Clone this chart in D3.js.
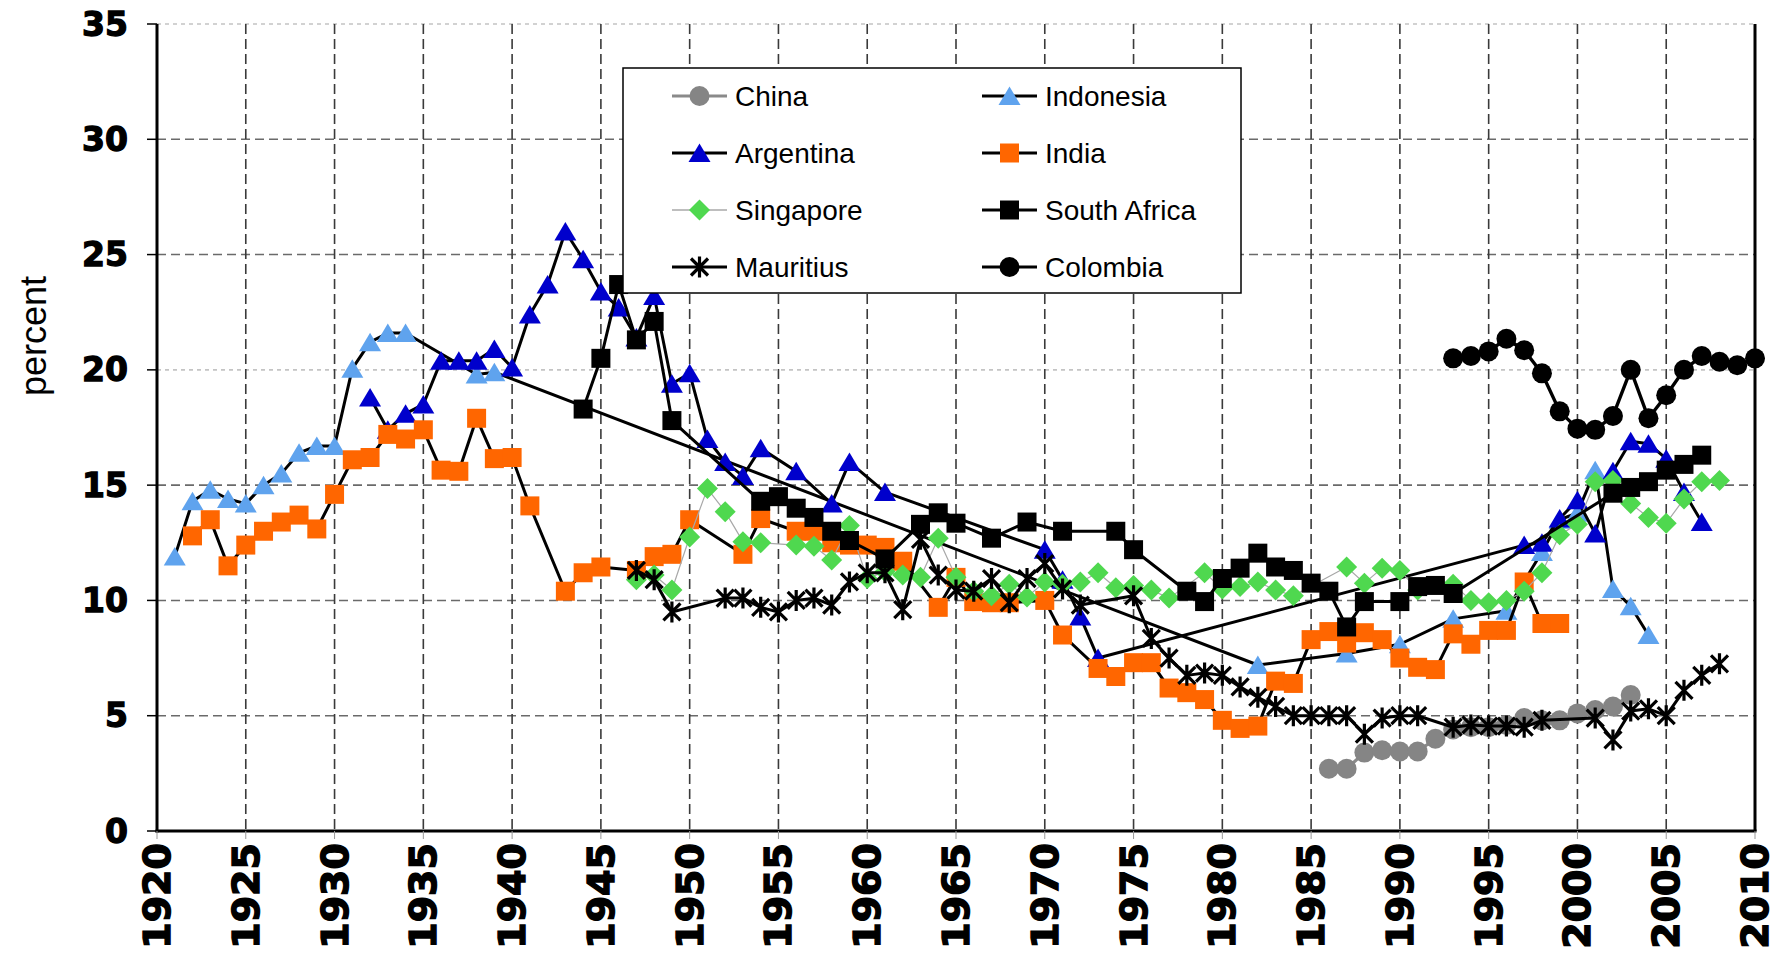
<!DOCTYPE html>
<html>
<head>
<meta charset="utf-8">
<script src="https://cdn.jsdelivr.net/npm/d3@7"></script>
<style>
  html, body { margin: 0; padding: 0; background: #fff; }
  svg { display: block; }
</style>
</head>
<body>
<svg id="chart" width="1780" height="958"></svg>
<script>
// ---------------- DATA ----------------
const xTicks = [1920, 1925, 1930, 1935, 1940, 1945, 1950, 1955, 1960, 1965, 1970, 1975, 1980, 1985, 1990, 1995, 2000, 2005, 2010];
const yTicks = [0, 5, 10, 15, 20, 25, 30, 35];

const chinaYears  = [1986,1987,1988,1989,1990,1991,1992,1993,1994,1995,1996,1997,1998,1999,2000,2001,2002,2003];
const chinaValues = [2.7,2.7,3.4,3.5,3.45,3.45,4.0,4.4,4.5,4.5,4.6,4.9,4.8,4.8,5.1,5.25,5.4,5.9];

const indonesiaYears  = [1921,1922,1923,1924,1925,1926,1927,1928,1929,1930,1931,1932,1933,1934,1938,1939,1982,1987,1990,1993,1996,1998,1999,2000,2001,2002,2003,2004];
const indonesiaValues = [11.9,14.3,14.8,14.4,14.2,15.0,15.5,16.4,16.7,16.7,20.05,21.2,21.6,21.6,19.8,19.9,7.2,7.7,8.1,9.2,9.55,12.1,13.5,13.8,15.65,10.5,9.75,8.5];

const argentinaYears  = [1932,1933,1934,1935,1936,1937,1938,1939,1940,1941,1942,1943,1944,1945,1946,1947,1948,1949,1950,1951,1952,1953,1954,1956,1958,1959,1961,1970,1971,1972,1973,1997,1998,1999,2000,2001,2002,2003,2004,2005,2006,2007];
const argentinaValues = [18.8,17.4,18.1,18.5,20.4,20.4,20.4,20.9,20.1,22.4,23.7,26.0,24.8,23.4,22.7,21.4,23.2,19.4,19.85,17.0,16.0,15.4,16.6,15.6,14.2,16.0,14.7,12.2,10.9,9.3,7.5,12.4,12.5,13.55,14.35,12.9,15.6,16.9,16.8,16.15,14.7,13.4];

const indiaYears  = [1922,1923,1924,1925,1926,1927,1928,1929,1930,1931,1932,1933,1934,1935,1936,1937,1938,1939,1940,1941,1943,1944,1945,1947,1948,1949,1950,1953,1954,1956,1957,1958,1959,1960,1961,1962,1964,1965,1966,1967,1968,1970,1971,1973,1974,1975,1976,1977,1978,1979,1980,1981,1982,1983,1984,1985,1986,1987,1988,1989,1990,1991,1992,1993,1994,1995,1996,1997,1998,1999];
const indiaValues = [12.8,13.5,11.5,12.4,13.0,13.4,13.7,13.1,14.6,16.1,16.2,17.2,17.0,17.4,15.65,15.6,17.9,16.15,16.2,14.1,10.4,11.2,11.45,11.3,11.9,12.0,13.5,12.0,13.55,13.0,13.0,12.5,12.4,12.4,12.3,11.7,9.7,11.0,9.95,9.9,9.9,10.0,8.5,7.05,6.7,7.3,7.3,6.2,6.0,5.7,4.8,4.45,4.55,6.5,6.4,8.3,8.65,8.15,8.6,8.3,7.5,7.1,7.0,8.55,8.1,8.7,8.7,10.8,9.0,9.0];

const singaporeYears  = [1947,1948,1949,1950,1951,1952,1953,1954,1956,1957,1958,1959,1960,1961,1962,1963,1964,1965,1966,1967,1968,1969,1970,1971,1972,1973,1974,1975,1976,1977,1979,1980,1981,1982,1983,1984,1987,1988,1989,1990,1991,1993,1994,1995,1996,1997,1998,1999,2000,2001,2002,2003,2004,2005,2006,2007,2008];
const singaporeValues = [10.9,11.1,10.45,12.75,14.85,13.85,12.55,12.5,12.4,12.35,11.75,13.25,10.95,11.25,11.1,11.0,12.7,11.0,10.4,10.2,10.7,10.15,10.8,10.7,10.8,11.2,10.55,10.65,10.45,10.1,11.2,10.5,10.6,10.8,10.45,10.2,11.45,10.75,11.4,11.3,10.45,10.7,10.0,9.9,10.0,10.4,11.2,12.85,13.3,15.15,15.2,14.2,13.6,13.35,14.4,15.15,15.2];

const southAfricaYears  = [1944,1945,1946,1947,1948,1949,1954,1955,1956,1957,1958,1959,1961,1963,1964,1965,1967,1969,1971,1974,1975,1978,1979,1980,1981,1982,1983,1984,1985,1986,1987,1988,1990,1991,1992,1993,2002,2003,2004,2005,2006,2007];
const southAfricaValues = [18.3,20.5,23.7,21.3,22.1,17.8,14.3,14.5,14.0,13.6,13.0,12.6,11.8,13.3,13.8,13.35,12.7,13.4,13.0,13.0,12.2,10.4,9.95,10.95,11.4,12.05,11.45,11.3,10.75,10.4,8.85,9.95,9.95,10.6,10.65,10.3,14.65,14.9,15.15,15.65,15.9,16.3];

const mauritiusYears  = [1947,1948,1949,1952,1953,1954,1955,1956,1957,1958,1959,1960,1961,1962,1963,1964,1965,1966,1967,1968,1969,1970,1971,1972,1975,1976,1977,1978,1979,1980,1981,1982,1983,1984,1985,1986,1987,1988,1989,1990,1991,1993,1994,1995,1996,1997,1998,2001,2002,2003,2004,2005,2006,2007,2008];
const mauritiusValues = [11.3,10.9,9.5,10.1,10.1,9.7,9.5,10.0,10.1,9.8,10.8,11.2,11.2,9.6,12.65,11.1,10.45,10.4,10.95,9.9,10.95,11.6,10.5,9.8,10.2,8.35,7.5,6.75,6.85,6.75,6.25,5.8,5.4,5.0,5.0,5.0,5.0,4.2,4.9,5.0,5.0,4.5,4.6,4.55,4.55,4.5,4.8,4.9,3.95,5.2,5.3,5.0,6.1,6.75,7.25];

const colombiaYears  = [1993,1994,1995,1996,1997,1998,1999,2000,2001,2002,2003,2004,2005,2006,2007,2008,2009,2010];
const colombiaValues = [20.5,20.6,20.8,21.35,20.85,19.85,18.2,17.45,17.4,18.0,20.0,17.9,18.9,20.0,20.6,20.35,20.2,20.5];

// ---------------- STYLE ----------------
const series = [
  {name: "China",        years: chinaYears,       values: chinaValues,       marker: "circle",   fill: "#858585", line: "#8a8a8a", lw: 3.2},
  {name: "Indonesia",    years: indonesiaYears,   values: indonesiaValues,   marker: "triangle", fill: "#5fa3ee", line: "#000",    lw: 3},
  {name: "Argentina",    years: argentinaYears,   values: argentinaValues,   marker: "triangle", fill: "#0000cc", line: "#000",    lw: 3},
  {name: "India",        years: indiaYears,       values: indiaValues,       marker: "square",   fill: "#ff6600", line: "#000",    lw: 3},
  {name: "Singapore",    years: singaporeYears,   values: singaporeValues,   marker: "diamond",  fill: "#4fd84f", line: "#a8a8a8", lw: 1.2},
  {name: "South Africa", years: southAfricaYears, values: southAfricaValues, marker: "square",   fill: "#000",    line: "#000",    lw: 3},
  {name: "Mauritius",    years: mauritiusYears,   values: mauritiusValues,   marker: "star",     fill: "none",    line: "#000",    lw: 3},
  {name: "Colombia",     years: colombiaYears,    values: colombiaValues,    marker: "circle",   fill: "#000",    line: "#000",    lw: 3.4}
];

const svg = d3.select("#chart");
const x = d3.scaleLinear().domain([1920, 2010]).range([157, 1755]);
const y = d3.scaleLinear().domain([0, 35]).range([831, 24]);

function markerPath(type) {
  switch (type) {
    case "triangle": return "M0,-9.5 L11,9 L-11,9 Z";
    case "square":   return "M-9.5,-9.5 H9.5 V9.5 H-9.5 Z";
    case "diamond":  return "M0,-10.5 L10.5,0 L0,10.5 L-10.5,0 Z";
    case "circle":   return "M-10,0 A10,10 0 1,0 10,0 A10,10 0 1,0 -10,0 Z";
    case "star":     return "M0,-10.5 V10.5 M-8.5,-8.5 L8.5,8.5 M-8.5,8.5 L8.5,-8.5";
  }
}
function drawMarker(g, s, cx, cy) {
  const p = g.append("path")
    .attr("d", markerPath(s.marker))
    .attr("transform", `translate(${cx},${cy})`);
  if (s.marker === "star") {
    p.attr("fill", "none").attr("stroke", "#000").attr("stroke-width", 3.2);
  } else {
    p.attr("fill", s.fill).attr("stroke", "none");
  }
}

// ---------------- GRID ----------------
const grid = svg.append("g");
yTicks.filter(v => v > 0).forEach(v => {
  const light = (v === 20 || v === 35);
  grid.append("line")
    .attr("x1", x(1920)).attr("x2", x(2010))
    .attr("y1", y(v)).attr("y2", y(v))
    .attr("stroke", light ? "#c4c4c4" : "#6a6a6a")
    .attr("stroke-width", 1.6)
    .attr("stroke-dasharray", light ? "4,4" : "9,5");
});
xTicks.filter(t => t > 1920 && t < 2010).forEach(t => {
  grid.append("line")
    .attr("x1", x(t)).attr("x2", x(t))
    .attr("y1", y(35)).attr("y2", y(0))
    .attr("stroke", "#3a3a3a")
    .attr("stroke-width", 1.6)
    .attr("stroke-dasharray", "10,5");
});
grid.append("line")
  .attr("x1", x(2010)).attr("x2", x(2010))
  .attr("y1", y(35)).attr("y2", y(0))
  .attr("stroke", "#000").attr("stroke-width", 3);

// ---------------- SERIES ----------------
const lineGen = d3.line().x(d => x(d[0])).y(d => y(d[1]));
const plot = svg.append("g");
series.forEach(s => {
  const pts = s.years.map((yr, i) => [yr, s.values[i]]);
  const g = plot.append("g");
  g.append("path")
    .attr("d", lineGen(pts))
    .attr("fill", "none")
    .attr("stroke", s.line)
    .attr("stroke-width", s.lw)
    .attr("stroke-linejoin", "round");
  pts.forEach(p => drawMarker(g, s, x(p[0]), y(p[1])));
});

// ---------------- AXES ----------------
const axes = svg.append("g");
axes.append("line").attr("x1", x(1920)).attr("x2", x(1920)).attr("y1", y(35)).attr("y2", y(0) + 1.5)
  .attr("stroke", "#000").attr("stroke-width", 3);
axes.append("line").attr("x1", x(1920) - 1.5).attr("x2", x(2010) + 1.5).attr("y1", y(0)).attr("y2", y(0))
  .attr("stroke", "#000").attr("stroke-width", 3);

yTicks.forEach(v => {
  axes.append("line").attr("x1", x(1920) - 10).attr("x2", x(1920)).attr("y1", y(v)).attr("y2", y(v))
    .attr("stroke", "#000").attr("stroke-width", 1.5);
  axes.append("text")
    .attr("x", 128).attr("y", y(v))
    .attr("text-anchor", "end").attr("dominant-baseline", "central")
    .attr("font-family", "DejaVu Sans").attr("font-weight", "bold").attr("font-size", 33)
    .attr("fill", "#000").attr("stroke", "#000").attr("stroke-width", 1.3)
    .text(v);
});
xTicks.forEach(t => {
  axes.append("line").attr("x1", x(t)).attr("x2", x(t)).attr("y1", y(0)).attr("y2", y(0) + 8)
    .attr("stroke", "#999").attr("stroke-width", 1);
  axes.append("text")
    .attr("transform", `translate(${x(t)},843) rotate(-90)`)
    .attr("text-anchor", "end").attr("dominant-baseline", "central")
    .attr("font-family", "DejaVu Sans").attr("font-weight", "bold").attr("font-size", 38)
    .attr("fill", "#000").attr("stroke", "#000").attr("stroke-width", 1.4)
    .text(t);
});
axes.append("text")
  .attr("transform", "translate(33,336) rotate(-90)")
  .attr("text-anchor", "middle").attr("dominant-baseline", "central")
  .attr("font-family", "Liberation Sans, Arial, sans-serif").attr("font-size", 36)
  .attr("fill", "#000")
  .text("percent");

// ---------------- LEGEND ----------------
const legend = svg.append("g");
legend.append("rect").attr("x", 623).attr("y", 68).attr("width", 618).attr("height", 225)
  .attr("fill", "#fff").attr("stroke", "#000").attr("stroke-width", 1.5);
const rowsY = [96, 153, 210, 267];
series.forEach((s, i) => {
  const col = i % 2, row = Math.floor(i / 2);
  const lx1 = col === 0 ? 672 : 982, lx2 = lx1 + 55, cy = rowsY[row];
  const g = legend.append("g");
  g.append("line").attr("x1", lx1).attr("x2", lx2).attr("y1", cy).attr("y2", cy)
    .attr("stroke", s.line).attr("stroke-width", s.name === "Singapore" ? 1.5 : 3);
  drawMarker(g, s, (lx1 + lx2) / 2, cy);
  g.append("text")
    .attr("x", lx2 + 8).attr("y", cy)
    .attr("dominant-baseline", "central")
    .attr("font-family", "Liberation Sans, Arial, sans-serif").attr("font-size", 28)
    .attr("fill", "#000")
    .text(s.name);
});
</script>
</body>
</html>
